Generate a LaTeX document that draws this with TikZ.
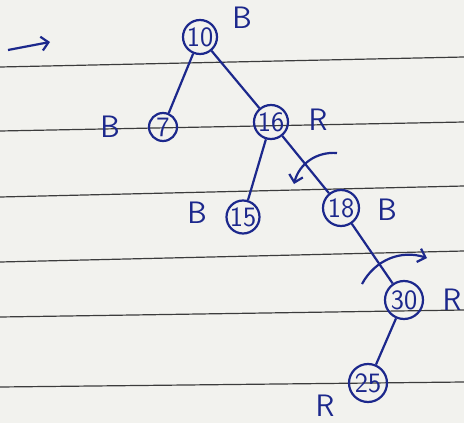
\documentclass[tikz,border=0pt]{standalone}
\usepackage{tikz}
\usetikzlibrary{arrows.meta}
\definecolor{ink}{RGB}{28,40,140}
\definecolor{paper}{RGB}{242,242,238}
\definecolor{rule}{RGB}{60,60,60}

\begin{document}
\begin{tikzpicture}[x=1pt, y=-1pt, >={Straight Barb[length=7pt,width=14pt]}, line width=2.2pt,
  treenode/.style={circle, draw=ink, minimum size=34pt, inner sep=0pt, text=ink, font=\sffamily\fontsize{28}{32}\selectfont},
  colour/.style={text=ink, font=\sffamily\fontsize{31}{34}\selectfont},
  edge/.style={draw=ink},
  ruling/.style={draw=rule, line width=1.2pt}]

% Paper
\fill[paper] (0,0) rectangle (464,423);
\useasboundingbox (0,0) rectangle (464,423);
\draw[ruling] (0,67) -- (464,57);
\draw[ruling] (0,131) -- (464,122);
\draw[ruling] (0,197) -- (464,186);
\draw[ruling] (0,262) -- (464,251);
\draw[ruling] (0,317) -- (464,310);
\draw[ruling] (0,387) -- (464,382);

% Pointer at the left
\coordinate (ps) at (8,50);
\coordinate (pe) at (50,42);
\draw[ink, ->] (ps) -- (pe);

% Tree nodes
\node[treenode] (n10) at (200,37) {10};
\node[treenode, minimum size=28pt] (n7) at (163,127) {7};
\node[treenode] (n16) at (271,122) {16};
\node[treenode, minimum size=33pt] (n15) at (243,217) {15};
\node[treenode, minimum size=36pt] (n18) at (341,208) {18};
\node[treenode, minimum size=38pt] (n30) at (404,300) {30};
\node[treenode, minimum size=38pt] (n25) at (368,383) {25};

% Colours
\node[colour] (c10) at (242,18) {B};
\node[colour] (c7) at (110,127) {B};
\node[colour] (c16) at (318,120) {R};
\node[colour] (c15) at (197,213) {B};
\node[colour] (c18) at (387,210) {B};
\node[colour] (c30) at (452,300) {R};
\node[colour] (c25) at (325,406) {R};

% Edges
\foreach \a/\b in {n10/n7, n10/n16, n16/n15, n16/n18, n18/n30, n30/n25} {
    \draw[edge] (\a) -- (\b);
}

% Rotation marks
\coordinate (r1s) at (337,153);
\coordinate (r1e) at (294,184);
\draw[ink, ->] (r1s) to[bend right=40] (r1e);
\coordinate (r2s) at (362,284);
\coordinate (r2e) at (427,258);
\draw[ink, ->] (r2s) to[bend left=40] (r2e);

\end{tikzpicture}
\end{document}
